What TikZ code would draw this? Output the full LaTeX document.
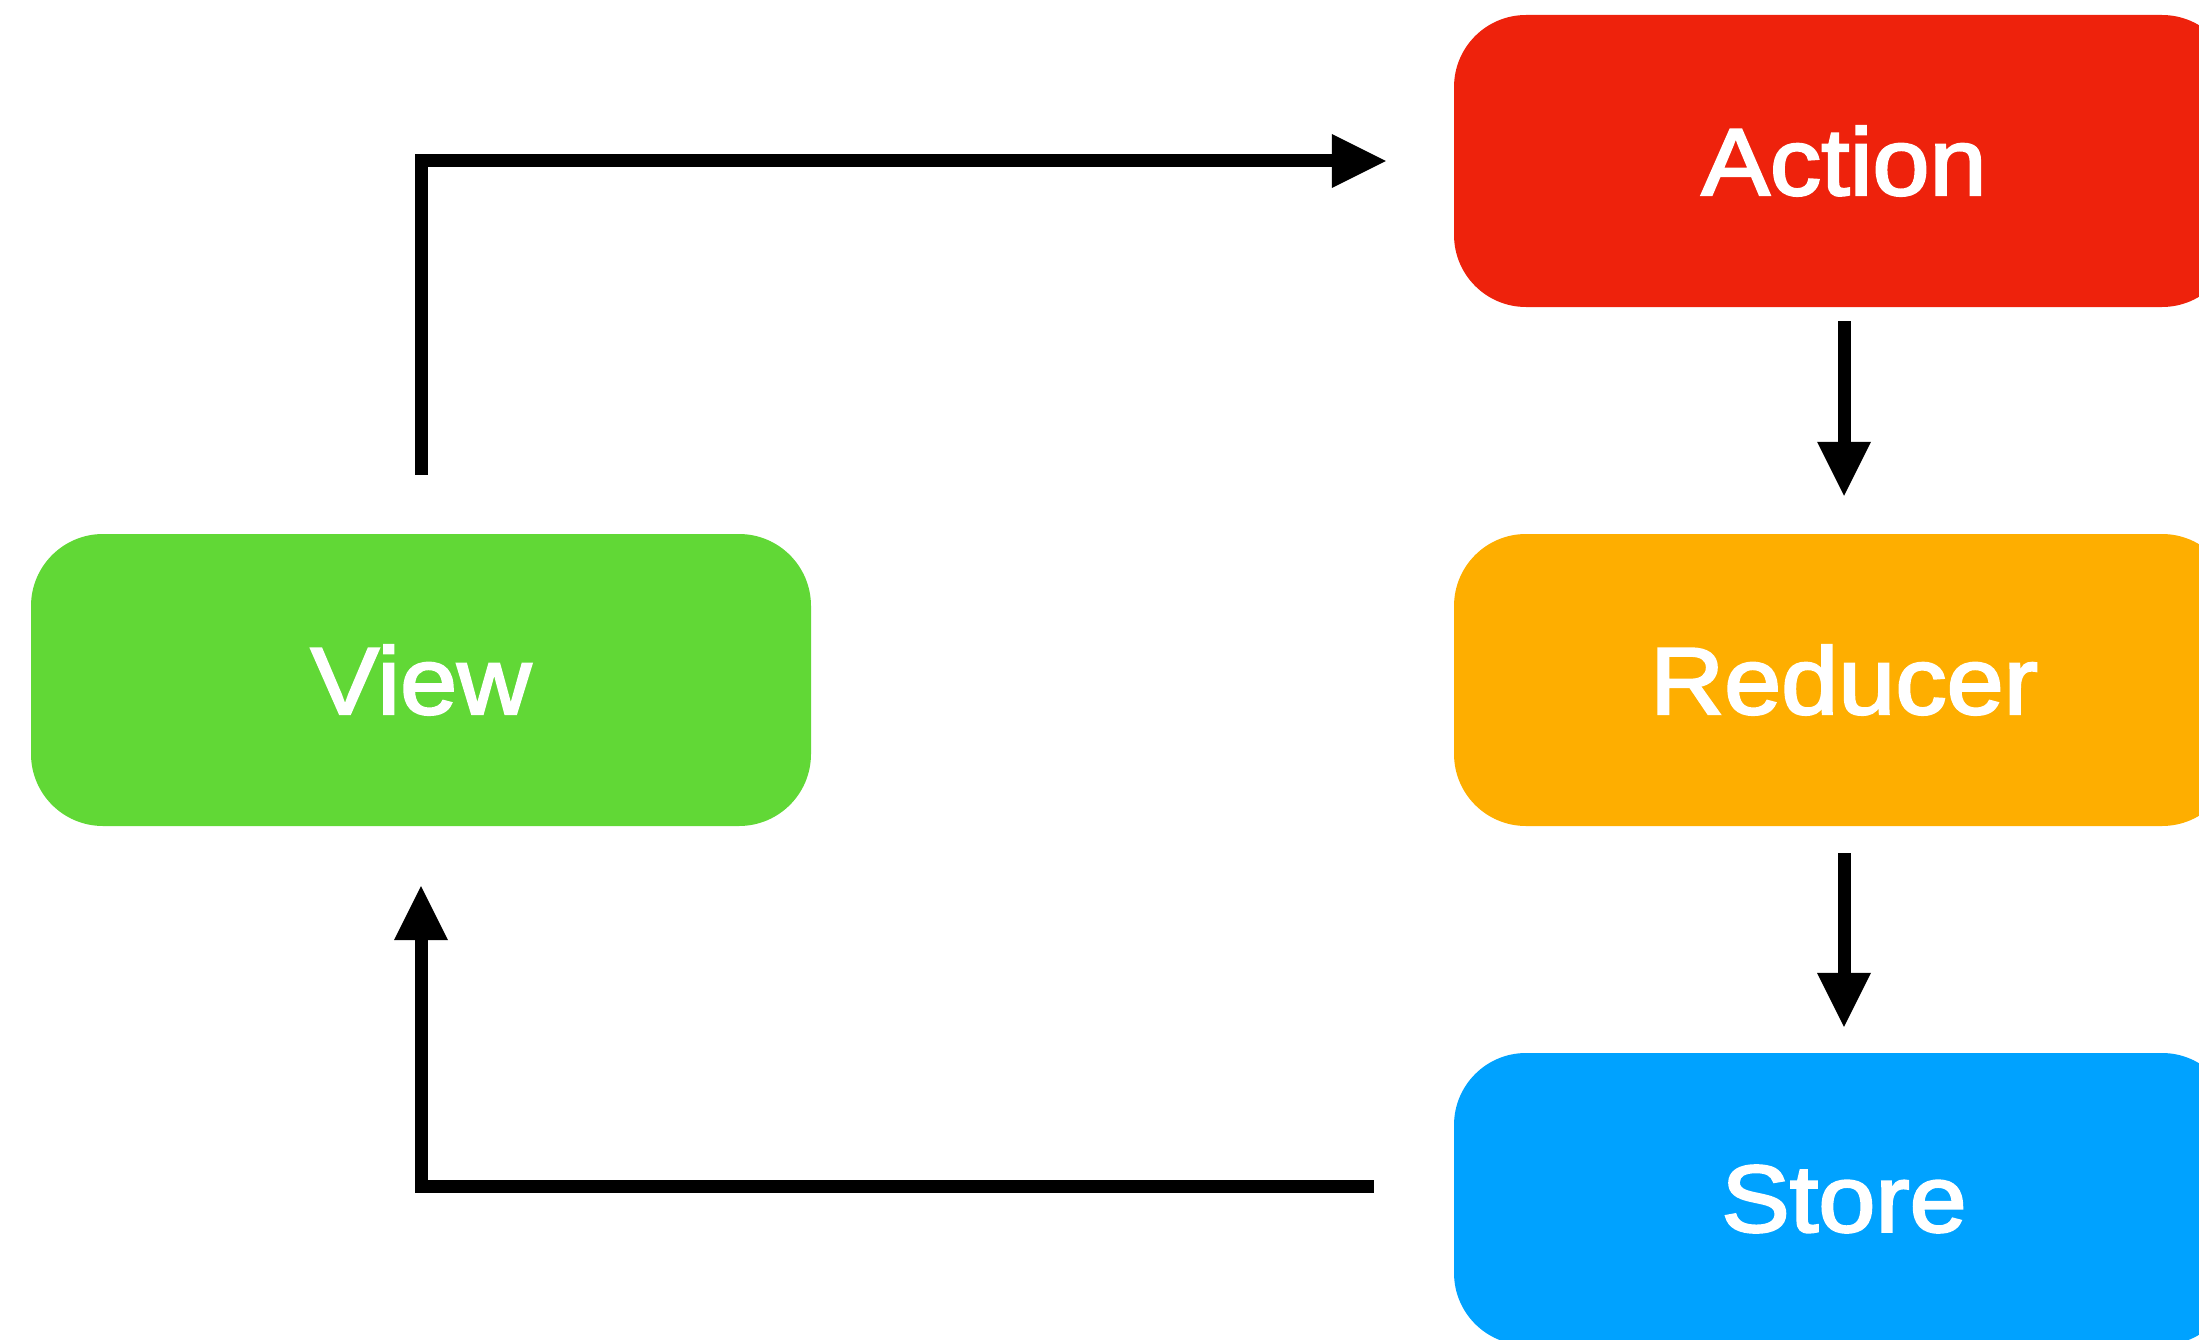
\documentclass[tikz,border=0pt]{standalone}
\usepackage{fontspec}
\setmainfont{Liberation Sans}
\newfontfamily\stagefont{Liberation Sans}[FakeStretch=1.08, FakeBold=2.5]
\usetikzlibrary{arrows.meta}

\definecolor{actionred}{HTML}{EE220C}
\definecolor{reducerorange}{HTML}{FEAE00}
\definecolor{viewgreen}{HTML}{61D836}
\definecolor{storeblue}{HTML}{00A2FF}

\tikzset{
  stage/.style={rectangle, rounded corners=72pt, minimum width=780pt,
    minimum height=292pt, inner sep=0pt, text=white,
    font=\stagefont\fontsize{95pt}{114pt}\selectfont},
  flow/.style={line width=13pt, line join=miter,
    -{Triangle[length=54pt,width=54pt,line width=0pt]}}
}

\begin{document}
\begin{tikzpicture}[x=1pt,y=-1pt]
  \useasboundingbox (0,0) rectangle (2199,1340);
  \clip (0,0) rectangle (2199,1340);

  % stages of the unidirectional data flow
  \node[stage, fill=viewgreen]     (view)    at (421,680)   {View};
  \node[stage, fill=actionred]     (action)  at (1844,161)  {Action};
  \node[stage, fill=reducerorange] (reducer) at (1844,680)  {Reducer};
  \node[stage, fill=storeblue]     (store)   at (1844,1199) {Store};

  % connectors
  \draw[flow, shorten <=59pt, shorten >=68pt] (view.north) |- (action.west);
  \draw[flow, shorten <=14pt, shorten >=38pt] (action.south) -- (reducer.north);
  \draw[flow, shorten <=27pt, shorten >=26pt] (reducer.south) -- (store.north);
  \coordinate (storeout) at ([yshift=13pt]store.west);
  \draw[flow, shorten <=80pt, shorten >=60pt] (storeout) -| (view.south);
\end{tikzpicture}
\end{document}
